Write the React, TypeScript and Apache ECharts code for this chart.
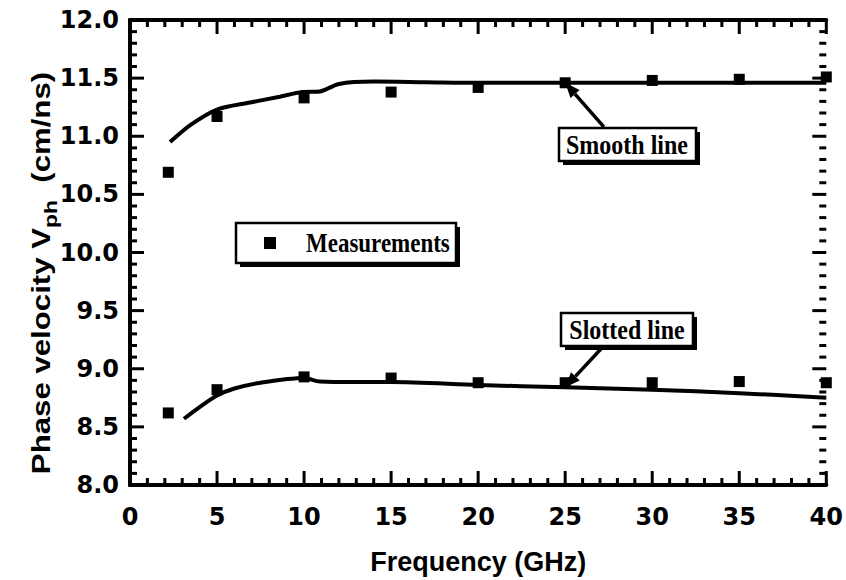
import React, { useEffect, useRef } from "react";
import * as echarts from "echarts";

// ---- data ----
const measFreq = [2.2, 5, 10, 15, 20, 25, 30, 35, 40];
const measSmooth = [10.69, 11.17, 11.33, 11.38, 11.42, 11.46, 11.48, 11.49, 11.51];
const measSlotted = [8.62, 8.82, 8.93, 8.92, 8.88, 8.88, 8.88, 8.89, 8.88];

const smoothFreq = [2.3, 3.5, 5, 6.9, 8.6, 9.9, 10.9, 12, 14, 17, 20, 25, 30, 35, 40];
const smoothVel = [10.95, 11.1, 11.23, 11.29, 11.34, 11.38, 11.385, 11.45, 11.47, 11.465, 11.46, 11.46, 11.46, 11.46, 11.46];

const slottedFreq = [3.1, 4, 5, 6, 7.5, 10, 10.9, 13, 15, 20, 25, 30, 35, 40];
const slottedVel = [8.57, 8.67, 8.77, 8.83, 8.88, 8.92, 8.89, 8.885, 8.885, 8.86, 8.84, 8.82, 8.79, 8.75];

const xMin = 0, xMax = 40, xStep = 5, xMinorStep = 1;
const yMin = 8, yMax = 12, yStep = 0.5, yMinorStep = 0.1;

// callout arrows: [tail freq, tail velocity, head freq, head velocity]
const arrowData = [
  [27.22, 11.08, 25, 11.46],
  [27.05, 9.17, 25, 8.84],
];

const zip = (a: number[], b: number[]) => a.map((v, i) => [v, b[i]]);

// tick positions follow the axis min / max / interval
function steps(min: number, max: number, step: number) {
  const out: number[] = [];
  const n = Math.round((max - min) / step);
  for (let i = 0; i <= n; i++) out.push(Math.round((min + i * step) * 1000) / 1000);
  return out;
}
const isMajor = (v: number, min: number, step: number) => Math.abs(((v - min) / step) - Math.round((v - min) / step)) < 1e-6;

const MAJOR_LEN = 14, MINOR_LEN = 7, TICK_W = 3;

function tickItems() {
  const items: any[] = [];
  for (const x of steps(xMin, xMax, xMinorStep)) {
    const L = isMajor(x, xMin, xStep) ? MAJOR_LEN : MINOR_LEN;
    items.push({ value: [x, yMin], symbolSize: [TICK_W, L], symbolOffset: [0, -L / 2] });
    items.push({ value: [x, yMax], symbolSize: [TICK_W, L], symbolOffset: [0, L / 2] });
  }
  for (const y of steps(yMin, yMax, yMinorStep)) {
    const L = isMajor(y, yMin, yStep) ? MAJOR_LEN : MINOR_LEN;
    items.push({ value: [xMin, y], symbolSize: [L, TICK_W], symbolOffset: [L / 2, 0] });
    items.push({ value: [xMax, y], symbolSize: [L, TICK_W], symbolOffset: [-L / 2, 0] });
  }
  return items;
}

function box(x: number, y: number, w: number, h: number) {
  return [
    { type: "rect", shape: { x: x + 4, y: y + 4, width: w, height: h }, style: { fill: "#000" } },
    { type: "rect", shape: { x, y, width: w, height: h }, style: { fill: "#fff", stroke: "#000", lineWidth: 2.5 } },
  ];
}

function label(text: string, x: number, y: number, size: number, align = "center") {
  return {
    type: "text",
    x,
    y,
    scaleY: 1.15,
    style: {
      text,
      fill: "#000",
      fontFamily: "Liberation Serif",
      fontWeight: "bold",
      fontSize: size,
      align,
      verticalAlign: "middle",
      textAlign: align,
      textVerticalAlign: "middle",
    },
  };
}

function renderArrow(_params: any, api: any) {
  const from = api.coord([api.value(0), api.value(1)]);
  const to = api.coord([api.value(2), api.value(3)]);
  const dx = to[0] - from[0];
  const dy = to[1] - from[1];
  const len = Math.sqrt(dx * dx + dy * dy);
  const ux = dx / len, uy = dy / len;
  const hl = 15, hw = 6;
  const bx = to[0] - ux * hl, by = to[1] - uy * hl;
  return {
    type: "group",
    children: [
      { type: "line", shape: { x1: from[0], y1: from[1], x2: bx, y2: by }, style: { stroke: "#000", lineWidth: 3.5 } },
      {
        type: "polygon",
        shape: { points: [[to[0], to[1]], [bx - uy * hw, by + ux * hw], [bx + uy * hw, by - ux * hw]] },
        style: { fill: "#000" },
      },
    ],
  };
}

function renderAnnotations() {
  return {
    type: "group",
    children: [
      ...box(236, 223, 220, 40),
      { type: "rect", shape: { x: 264, y: 237, width: 12, height: 12 }, style: { fill: "#000" } },
      label("Measurements", 306, 243, 23, "left"),
      ...box(559, 128, 137, 33),
      label("Smooth line", 627, 145, 24),
      ...box(561, 313, 132, 33),
      label("Slotted line", 627, 330, 24),
      {
        type: "text", x: 41, y: 273, rotation: Math.PI / 2, scaleX: 1.2,
        style: {
          text: "{a|Phase velocity V}{s|ph}{a|  (cm/ns)}",
          fill: "#000",
          align: "center", verticalAlign: "middle", textAlign: "center", textVerticalAlign: "middle",
          rich: {
            a: { fontFamily: "Liberation Sans", fontWeight: "bold", fontSize: 26, lineHeight: 38, fill: "#000" },
            s: { fontFamily: "Liberation Sans", fontWeight: "bold", fontSize: 19, lineHeight: 19, verticalAlign: "bottom", fill: "#000" },
          },
        },
      },
    ],
  };
}

export default function App() {
  const ref = useRef<HTMLDivElement>(null);

  useEffect(() => {
    if (!ref.current) return;
    const chart = echarts.init(ref.current, undefined, { renderer: "svg" });
    const line = { show: true, lineStyle: { color: "#000", width: 4 } };
    const lab = { fontFamily: "DejaVu Sans", fontWeight: "bold", fontSize: 24, color: "#000" };
    const option: any = {
      animation: false,
      grid: { left: 130, top: 20, width: 701, height: 465 },
      xAxis: [
        { type: "value", position: "bottom", min: xMin, max: xMax, interval: xStep,
          axisLine: line, axisTick: { show: false }, splitLine: { show: false },
          axisLabel: { ...lab, margin: 20 },
          name: "Frequency (GHz)", nameLocation: "middle", nameGap: 63,
          nameTextStyle: { fontFamily: "Liberation Sans", fontWeight: "bold", fontSize: 27, color: "#000" } },
        { type: "value", position: "top", min: xMin, max: xMax, interval: xStep,
          axisLine: line, axisTick: { show: false }, splitLine: { show: false },
          axisLabel: { show: false } },
      ],
      yAxis: [
        { type: "value", position: "left", min: yMin, max: yMax, interval: yStep,
          axisLine: line, axisTick: { show: false }, splitLine: { show: false },
          axisLabel: { ...lab, margin: 11, formatter: (v: number) => v.toFixed(1) } },
        { type: "value", position: "right", min: yMin, max: yMax, interval: yStep,
          axisLine: line, axisTick: { show: false }, splitLine: { show: false },
          axisLabel: { show: false } },
      ],
      series: [
        {
          name: "Axis ticks", type: "scatter", data: tickItems(), symbol: "rect",
          itemStyle: { color: "#000", opacity: 1 }, clip: false, z: 6, silent: true,
        },
        {
          name: "Smooth line", type: "line", data: zip(smoothFreq, smoothVel), smooth: 0.3,
          symbol: "none", lineStyle: { color: "#000", width: 4 }, z: 3, silent: true,
        },
        {
          name: "Slotted line", type: "line", data: zip(slottedFreq, slottedVel), smooth: 0.3,
          symbol: "none", lineStyle: { color: "#000", width: 4 }, z: 3, silent: true,
        },
        {
          name: "Measurements", type: "scatter",
          data: [...zip(measFreq, measSmooth), ...zip(measFreq, measSlotted)],
          symbol: "rect", symbolSize: 11, itemStyle: { color: "#000", opacity: 1 }, z: 4, silent: true,
        },
        {
          name: "Callout arrows", type: "custom", data: arrowData,
          encode: { x: [0, 2], y: [1, 3] },
          renderItem: renderArrow, clip: false, z: 10, silent: true,
        },
        {
          name: "Annotations", type: "custom", data: [[0, 8]],
          encode: { x: 0, y: 1 },
          renderItem: renderAnnotations, clip: false, z: 11, silent: true,
        },
      ],
    };
    chart.setOption(option);
    return () => chart.dispose();
  }, []);

  return (
    <div
      ref={ref}
      style={{ position: "fixed", left: 0, top: 0, width: 846, height: 580, background: "#fff" }}
    />
  );
}
